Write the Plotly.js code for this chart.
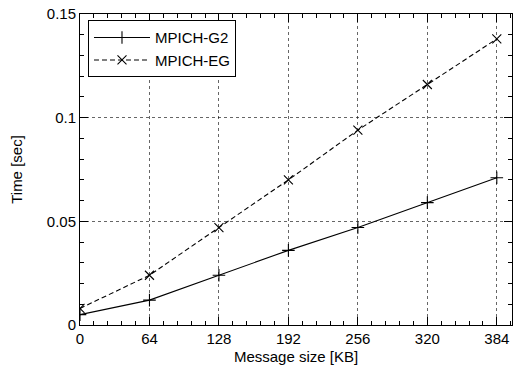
<!DOCTYPE html>
<html><head><meta charset="utf-8">
<script src="https://cdn.plot.ly/plotly-3.0.1.min.js"></script>
<style>html,body{margin:0;padding:0;background:#fff}</style>
</head><body>
<div id="chart" style="width:517px;height:371px"></div>
<script>
const sizes = [0, 64, 128, 192, 256, 320, 384];
const g2 = [0.005, 0.012, 0.024, 0.036, 0.047, 0.059, 0.071];
const eg = [0.008, 0.024, 0.047, 0.070, 0.094, 0.116, 0.138];
const xTicks = [0, 64, 128, 192, 256, 320, 384];
const yTicks = [0, 0.05, 0.1, 0.15];
const yTickText = ['0', '0.05', '0.1', '0.15'];

const font = {family: "'Liberation Sans', Arial, sans-serif", size: 15, color: '#000'};
const traces = [
  {x: sizes, y: g2, name: 'MPICH-G2', mode: 'lines+markers', type: 'scatter',
   line: {color: '#000', width: 1.1, dash: 'solid'},
   marker: {symbol: 'cross-thin', size: 9, line: {color: '#000', width: 1.1}}},
  {x: sizes, y: eg, name: 'MPICH-EG', mode: 'lines+markers', type: 'scatter',
   line: {color: '#000', width: 1.1, dash: '5px,3px'},
   marker: {symbol: 'x-thin', size: 9, line: {color: '#000', width: 1.1}}}
];
const layout = {
  width: 517, height: 371,
  margin: {l: 80, r: 5, t: 14, b: 46},
  paper_bgcolor: '#fff', plot_bgcolor: '#fff',
  font: font,
  showlegend: true,
  legend: {x: 0.0185, y: 0.98, xanchor: 'left', yanchor: 'top',
    bordercolor: '#000', borderwidth: 1, bgcolor: '#fff',
    font: {family: font.family, size: 15, color: '#000'},
    tracegroupgap: 0, itemwidth: 56},
  xaxis: {range: [0, 398], tickvals: xTicks, ticktext: xTicks.map(String),
    ticks: 'inside', ticklen: 8, tickcolor: '#000', tickwidth: 1,
    showline: true, linecolor: '#000', linewidth: 1, mirror: 'allticks',
    showgrid: true, gridcolor: '#000', gridwidth: 0.6, griddash: 'dot',
    zeroline: false,
    minor: {dtick: 12.8, tick0: 0, ticks: 'inside', ticklen: 4, tickcolor: '#000', showgrid: false},
    title: {text: 'Message size [KB]', font: font, standoff: 5},
    tickfont: font},
  yaxis: {range: [0, 0.15], tickvals: yTicks, ticktext: yTickText,
    ticks: 'inside', ticklen: 8, tickcolor: '#000', tickwidth: 1,
    showline: true, linecolor: '#000', linewidth: 1, mirror: 'allticks',
    showgrid: true, gridcolor: '#000', gridwidth: 0.6, griddash: 'dot',
    zeroline: false,
    minor: {dtick: 0.01, tick0: 0, ticks: 'inside', ticklen: 4, tickcolor: '#000', showgrid: false},
    title: {text: 'Time [sec]', font: font, standoff: 20},
    tickfont: font}
};
Plotly.newPlot('chart', traces, layout, {staticPlot: true, displayModeBar: false});
</script>
</body></html>
